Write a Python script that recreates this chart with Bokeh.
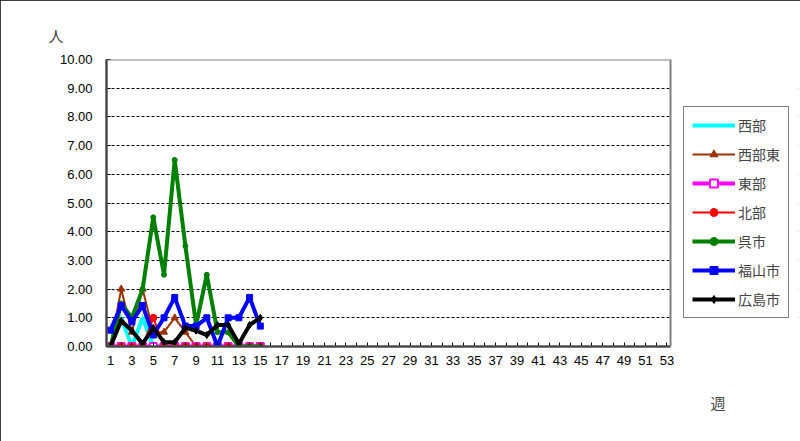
import math
from bokeh.plotting import figure
from bokeh.models import (Range1d, FixedTicker, NumeralTickFormatter, Legend,
                          LegendItem, Title, BoxAnnotation)
from bokeh.embed import file_html
from bokeh.resources import INLINE

weeks = list(range(1, 16))
all_weeks = list(range(1, 54))

seibu      = [0, 1.0, 0, 1.0, 0, 0, 0, 0, 0, 0, 0, 0, 0, 0, 0]
seibu_higa = [0, 2.0, 0.5, 2.0, 0.5, 0.5, 1.0, 0.5, 0, 0, 0, 0, 0, 0, 0]
tobu       = [0, 0, 0, 0, 0, 0, 0, 0, 0, 0, 0, 0, 0, 0, 0]
hokubu     = [0, 0, 0, 0, 1.0, 0, 0, 0, 0, 0, 0, 0, 0, 0, 0]
kure       = [0, 1.5, 1.0, 2.0, 4.5, 2.5, 6.5, 3.5, 0.75, 2.5, 0.5, 0.5, 0, 0, 0]
fukuyama   = [0.57, 1.43, 0.86, 1.43, 0.4, 1.0, 1.71, 0.71, 0.71, 1.0, 0, 1.0, 1.0, 1.71, 0.71]
hiroshima  = [0, 0.9, 0.55, 0.1, 0.65, 0.15, 0.15, 0.65, 0.55, 0.4, 0.75, 0.75, 0.1, 0.75, 1.0]

names = ["西部", "西部東", "東部", "北部", "呉市", "福山市", "広島市"]
y_ticks = list(range(0, 11))

FONT = "Noto Sans CJK JP"
NUMFONT = "Liberation Sans"

X0, X1 = 0.626, 53.34          # plot-area extent in weeks
XR = 65.3                      # frame extends right to hold the legend

p = figure(width=800, height=441, output_backend="svg", toolbar_location=None,
           x_range=Range1d(X0, XR), y_range=Range1d(0, 10),
           min_border_left=106, min_border_right=2, min_border_top=59,
           min_border_bottom=95)
p.styles = {"outline": "1px solid black", "outline-offset": "-1px"}

p.outline_line_color = None
p.xgrid.visible = False
p.ygrid.ticker = FixedTicker(ticks=y_ticks)
p.ygrid.grid_line_color = "black"
p.ygrid.grid_line_dash = "3 2"
p.ygrid.grid_line_width = 1

p.yaxis.ticker = FixedTicker(ticks=y_ticks)
p.yaxis.formatter = NumeralTickFormatter(format="0.00")
p.xaxis.ticker = FixedTicker(ticks=all_weeks)
p.xaxis.bounds = (X0, X1)
p.xaxis.major_label_overrides = {w: ("" if w % 2 == 0 else str(w)) for w in all_weeks}
for ax in (p.xaxis[0], p.yaxis[0]):
    ax.axis_line_color = "black"
    ax.axis_line_width = 2
    ax.major_tick_in = 4
    ax.major_tick_out = 0
    ax.minor_tick_line_color = None
    ax.major_tick_line_color = "black"
    ax.major_label_text_font = NUMFONT
    ax.major_label_text_font_size = "13px"
    ax.major_label_text_color = "black"
p.yaxis.major_label_standoff = 14
p.xaxis.major_label_standoff = 9

specs = [
    (seibu,      "#00FFFF", 4, "dash",     6, "#00FFFF", 1),
    (seibu_higa, "#993300", 2, "triangle", 7, "#993300", 1),
    (tobu,       "#FF00FF", 4, "square",   7, "white",   2),
    (hokubu,     "#FF0000", 2, "circle",   7, "#FF0000", 1),
    (kure,       "#008000", 4, "circle",   5, "#008000", 1),
    (fukuyama,   "#0000FF", 4, "square",   6, "#0000FF", 1),
    (hiroshima,  "#000000", 4, "diamond",  7, "#000000", 1),
]

items = []
for (vals, col, lw, mk, ms, fill, mlw), name in zip(specs, names):
    r1 = p.line(weeks, vals, line_color=col, line_width=lw)
    kw = {}
    if mk == "dash":
        kw["angle"] = math.pi / 2
    r2 = p.scatter(weeks, vals, marker=mk, size=ms, line_color=col,
                   fill_color=fill, line_width=mlw, **kw)
    items.append(LegendItem(label=name, renderers=[r1, r2]))

# white mask over the extended part of the frame (hides grid lines there)
p.add_layout(BoxAnnotation(left=X1, fill_color="white", fill_alpha=1,
                           line_color=None, level="underlay"))
# gray plot-area border (top and right), left/bottom covered by the axes
p.add_layout(BoxAnnotation(left=X0, right=X1, bottom=0, top=10, fill_alpha=0,
                           line_color="#808080", line_width=2, line_alpha=1))

legend = Legend(items=items, location=(577, 28))
legend.glyph_width = 43
legend.glyph_height = 20
legend.label_height = 20
legend.spacing = 9
legend.padding = 8
legend.margin = 0
legend.label_standoff = 3
legend.label_text_font = FONT
legend.label_text_font_size = "14px"
legend.border_line_color = "black"
legend.border_line_width = 1
legend.background_fill_color = "white"
legend.background_fill_alpha = 1
p.add_layout(legend, "center")

t_y = Title(text="人", align="left", offset=-58, standoff=28,
            text_font=FONT, text_font_size="15px", text_font_style="normal")
p.add_layout(t_y, "above")
t_x = Title(text="週", align="right", offset=73, standoff=48, vertical_align="top",
            text_font=FONT, text_font_size="15px", text_font_style="normal")
p.add_layout(t_x, "below")

open("out.html", "w").write(file_html(p, INLINE))
